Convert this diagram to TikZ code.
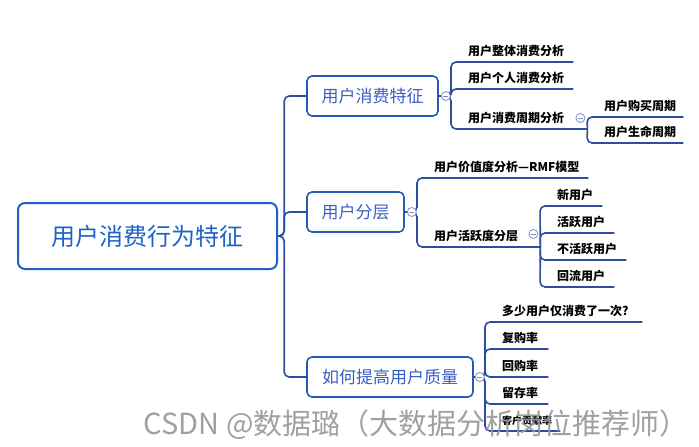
\documentclass[tikz,border=0pt]{standalone}
\usepackage{fontspec}
\newfontfamily\cjk{Noto Sans CJK SC}
\definecolor{linkblue}{RGB}{44,78,160}
\definecolor{boxblue}{RGB}{38,88,182}
\definecolor{rootblue}{RGB}{28,98,200}
\definecolor{textblue}{RGB}{58,95,195}
\definecolor{foldgray}{RGB}{130,145,190}
\definecolor{markgray}{RGB}{150,150,150}

\begin{document}
\begin{tikzpicture}[x=1pt, y=-1pt]
\tikzstyle{topic}=[draw=boxblue, line width=1.6pt, rounded corners=5pt, text=textblue, font=\cjk\fontsize{17}{17}\selectfont, inner sep=0pt, minimum height=40pt]
\tikzstyle{leaf}=[anchor=south west, inner xsep=0pt, inner ysep=5pt, align=left, font=\cjk\bfseries\fontsize{12}{12}\selectfont, execute at begin node={\hspace*{17pt}}]
\tikzstyle{link}=[draw=linkblue, line width=1.6pt, rounded corners=5pt]
\tikzstyle{fold}=[circle, draw=foldgray, fill=white, line width=0.8pt, minimum size=9pt, inner sep=0pt, path picture={\draw[foldgray, line width=0.8pt] ([xshift=2pt]path picture bounding box.west) -- ([xshift=-2pt]path picture bounding box.east);}]
\useasboundingbox (0,0) rectangle (699,447);

% central topic and main branches
\node[topic, draw=rootblue, line width=2pt, rounded corners=7pt, minimum width=259pt, minimum height=66pt, text=rootblue, font=\cjk\fontsize{24}{24}\selectfont] (root) at (147.5,236) {用户消费行为特征};
\node[topic, minimum width=131pt] (t1) at (372.5,96) {用户消费特征};
\node[topic, minimum width=97pt] (t2) at (355.5,212) {用户分层};
\node[topic, minimum width=166pt] (t3) at (390,377) {如何提高用户质量};

% leaves
\node[leaf, text width=122pt] (a1) at (451,62) {用户整体消费分析};
\node[leaf, text width=122pt] (a2) at (451,89) {用户个人消费分析};
\node[leaf, text width=136pt] (a3) at (451,129) {用户消费周期分析};
\node[leaf, text width=96pt] (b1) at (587,117) {用户购买周期};
\node[leaf, text width=96pt] (b2) at (587,143) {用户生命周期};

\node[leaf, text width=171pt] (c1) at (417,178) {用户价值度分析—RMF模型};
\node[leaf, text width=123pt] (c2) at (417,247) {用户活跃度分层};
\node[leaf, text width=62pt] (d1) at (540,206) {新用户};
\node[leaf, text width=74pt] (d2) at (540,233) {活跃用户};
\node[leaf, text width=86pt] (d3) at (540,260) {不活跃用户};
\node[leaf, text width=74pt] (d4) at (540,287) {回流用户};

\node[leaf, text width=157pt] (e1) at (485,322) {多少用户仅消费了一次?};
\node[leaf, text width=63pt] (e2) at (485,349) {复购率};
\node[leaf, text width=63pt] (e3) at (485,377) {回购率};
\node[leaf, text width=63pt] (e4) at (485,404) {留存率};
\node[leaf, text width=75pt, font=\cjk\bfseries\fontsize{10}{10}\selectfont] (e5) at (485,431) {客户贡献率};

% connectors
\draw[link] (t1.west) -- ++(-22,0) |- (root.east);
\draw[link] (t2.west) -- ++(-22,0) |- (root.east);
\draw[link] (t3.west) -- ++(-22,0) |- (root.east);

\draw[link] (a1.south east) -- (a1.south west) |- (t1.east);
\draw[link] (a2.south east) -- (a2.south west) |- (t1.east);
\draw[link] (a3.south east) -- (a3.south west) |- (t1.east);
\draw[link] (b1.south east) -- (b1.south west) -- (a3.south east);
\draw[link] (b2.south east) -- (b2.south west) -- (a3.south east);

\draw[link] (c1.south east) -- (c1.south west) |- (t2.east);
\draw[link] (c2.south east) -- (c2.south west) |- (t2.east);
\draw[link] (d1.south east) -- (d1.south west) -- (c2.south east);
\draw[link] (d2.south east) -- (d2.south west) -- (c2.south east);
\draw[link] (d3.south east) -- (d3.south west) -- (c2.south east);
\draw[link] (d4.south east) -- (d4.south west) -- (c2.south east);

\draw[link] (e1.south east) -- (e1.south west) |- (t3.east);
\draw[link] (e2.south east) -- (e2.south west) |- (t3.east);
\draw[link] (e3.south east) -- (e3.south west) |- (t3.east);
\draw[link] (e4.south east) -- (e4.south west) |- (t3.east);
\draw[link] (e5.south east) -- (e5.south west) |- (t3.east);

% collapse buttons
\node[fold] (f1) at ([xshift=7pt]t1.east) {};
\node[fold] (f2) at ([xshift=7pt]t2.east) {};
\node[fold] (f3) at ([xshift=6pt]t3.east) {};
\node[fold] (fa3) at ([xshift=-7pt,yshift=11pt]a3.south east) {};
\node[fold] (fc2) at ([xshift=-7pt,yshift=13pt]c2.south east) {};

% watermark
\node[anchor=east, inner sep=0pt, text=markgray, opacity=.9, font=\cjk\fontsize{29}{29}\selectfont] (mark) at (689,425) {CSDN @数据璐（大数据分析岗位推荐师）};
\end{tikzpicture}
\end{document}
